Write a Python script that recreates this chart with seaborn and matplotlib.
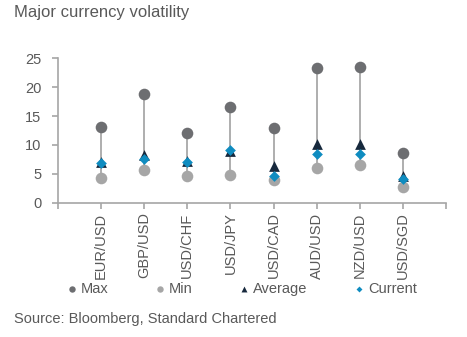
import matplotlib
matplotlib.use("Agg")
import matplotlib.pyplot as plt
import seaborn as sns
import pandas as pd

# Currency pairs and implied-volatility statistics
pairs = ["EUR/USD", "GBP/USD", "USD/CHF", "USD/JPY", "USD/CAD", "AUD/USD", "NZD/USD", "USD/SGD"]
vol_max = [13.1, 18.8, 12.1, 16.5, 13.0, 23.4, 23.5, 8.6]
vol_min = [4.2, 5.7, 4.7, 4.8, 4.0, 6.0, 6.6, 2.7]
vol_avg = [7.0, 8.3, 7.3, 9.0, 6.4, 10.2, 10.2, 4.6]
vol_cur = [6.8, 7.6, 7.1, 9.1, 4.6, 8.4, 8.5, 4.1]
y_ticks = [0, 5, 10, 15, 20, 25]

df = pd.DataFrame({"pair": pairs, "Max": vol_max, "Min": vol_min,
                   "Average": vol_avg, "Current": vol_cur})

sns.set_theme(style="white")
plt.rcParams["font.family"] = ["Liberation Sans", "DejaVu Sans"]
text_col = "#595959"
axis_col = "#a6a6a6"

fig = plt.figure(figsize=(4.67, 3.37), dpi=100)
ax = fig.add_axes([0.124, 0.3985, 0.831, 0.4285])

# Range whiskers from min to max
ax.vlines(df["pair"], df["Min"], df["Max"], color="#a8a8a8", lw=1.3, zorder=1)

series = [
    ("Max", "o", "#6d6e71", 70),
    ("Min", "o", "#a6a6a6", 70),
    ("Average", "^", "#17293d", 60),
    ("Current", "D", "#0f8cc0", 30),
]
for i, (name, mk, col, size) in enumerate(series):
    sns.scatterplot(data=df, x="pair", y=name, marker=mk, color=col, s=size,
                    linewidth=0, label=name, ax=ax, zorder=2 + i)

ax.set_xlim(-1, len(pairs))
ax.set_ylim(0, 25)
ax.set_xticks(range(-1, len(pairs) + 1))
ax.set_xticklabels([""] + pairs + [""], rotation=90, fontsize=10.5, color=text_col)
ax.set_yticks(y_ticks)
ax.set_yticklabels([str(v) for v in y_ticks], fontsize=10.5, color=text_col)
ax.set_xlabel("")
ax.set_ylabel("")

for side in ["top", "right"]:
    ax.spines[side].set_visible(False)
for side in ["left", "bottom"]:
    ax.spines[side].set_color(axis_col)
    ax.spines[side].set_linewidth(1.2)
ax.tick_params(axis="both", which="major", length=4, width=1.2, color=axis_col,
               direction="out", bottom=True, left=True, pad=3)
ax.tick_params(axis="y", pad=8)

leg = ax.legend(loc="center", bbox_to_anchor=(0.5 - 0.025, -0.595), ncol=4,
                frameon=False, fontsize=10.5, handlelength=0.6, handletextpad=0.3,
                columnspacing=3.24, markerscale=0.55, borderaxespad=0)
for t in leg.get_texts():
    t.set_color(text_col)

fig.text(0.03, 0.962, "Major currency volatility", fontsize=12, color=text_col,
         ha="left", va="center")
fig.text(0.03, 0.053, "Source: Bloomberg, Standard Chartered", fontsize=10.5,
         color=text_col, ha="left", va="center")

fig.savefig("out.png", dpi=100)
